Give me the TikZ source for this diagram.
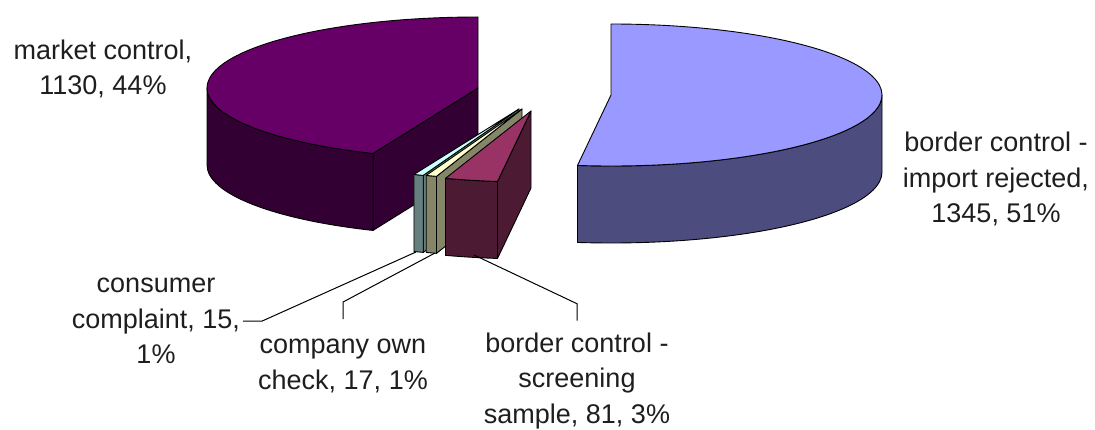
\documentclass[tikz,border=0pt]{standalone}
\usepackage{fontspec}
\setmainfont{Liberation Sans}
\definecolor{brtop}{HTML}{9999FF}\definecolor{brside}{HTML}{4C4C7F}
\definecolor{mctop}{HTML}{660066}\definecolor{mcside}{HTML}{330033}
\definecolor{bstop}{HTML}{993366}\definecolor{bsside}{HTML}{4D1A33}
\definecolor{cotop}{HTML}{FFFFCC}\definecolor{coside}{HTML}{858568}
\definecolor{cctop}{HTML}{CCFFFF}\definecolor{ccside}{HTML}{668080}
\definecolor{txt}{HTML}{1E1E1E}
\begin{document}
\begin{tikzpicture}[x=1pt,y=1pt,
  edge/.style={draw=black, line width=0.9pt, line join=round},
  ell/.style={x radius=271, y radius=71},
  lbl/.style={font=\fontsize{27}{35.5}\selectfont, text=txt, align=center, inner sep=0pt},
  leader/.style={draw=black, line width=1pt}]
\useasboundingbox (0,0) rectangle (1095,429);

% market control
\begin{scope}[shift={(478,341)}]
 \filldraw[edge, fill=mcside] (0,0) -- (247.2:271 and 71) -- ++(0,-77) -- (0,-77) -- cycle;
 \filldraw[edge, fill=mcside] (180:271 and 71) arc[start angle=180, end angle=247.2, ell] -- ++(0,-77) arc[start angle=247.2, end angle=180, ell] -- cycle;
 \filldraw[edge, fill=mctop] (0,0) -- (90:271 and 71) arc[start angle=90, end angle=247.2, ell] -- cycle;
\end{scope}

% border control - import rejected
\begin{scope}[shift={(611,334)}]
 \filldraw[edge, fill=brside] (-97.1:271 and 71) arc[start angle=-97.1, end angle=0, ell] -- ++(0,-77) arc[start angle=0, end angle=-97.1, ell] -- cycle;
 \filldraw[edge, fill=brtop] (0,0) -- (-97.1:271 and 71) arc[start angle=-97.1, end angle=90, ell] -- cycle;
\end{scope}

% consumer complaint
\begin{scope}[shift={(519,320)}]
 \filldraw[edge, fill=ccside] (0,0) -- (-110.7:271 and 71) -- ++(0,-77) -- (0,-77) -- cycle;
 \filldraw[edge, fill=ccside] (-112.8:271 and 71) arc[start angle=-112.8, end angle=-110.7, ell] -- ++(0,-77) arc[start angle=-110.7, end angle=-112.8, ell] -- cycle;
 \filldraw[edge, fill=cctop] (0,0) -- (-112.8:271 and 71) arc[start angle=-112.8, end angle=-110.7, ell] -- cycle;
\end{scope}

% company own check
\begin{scope}[shift={(522,320)}]
 \filldraw[edge, fill=coside] (0,0) -- (-108.4:271 and 71) -- ++(0,-77) -- (0,-77) -- cycle;
 \filldraw[edge, fill=coside] (-110.7:271 and 71) arc[start angle=-110.7, end angle=-108.4, ell] -- ++(0,-77) arc[start angle=-108.4, end angle=-110.7, ell] -- cycle;
 \filldraw[edge, fill=cotop] (0,0) -- (-110.7:271 and 71) arc[start angle=-110.7, end angle=-108.4, ell] -- cycle;
\end{scope}

% border control - screening sample
\begin{scope}[shift={(531,318)}]
 \filldraw[edge, fill=bsside] (0,0) -- (-97.1:271 and 71) -- ++(0,-77) -- (0,-77) -- cycle;
 \filldraw[edge, fill=bsside] (-108.4:271 and 71) arc[start angle=-108.4, end angle=-97.1, ell] -- ++(0,-77) arc[start angle=-97.1, end angle=-108.4, ell] -- cycle;
 \filldraw[edge, fill=bstop] (0,0) -- (-108.4:271 and 71) arc[start angle=-108.4, end angle=-97.1, ell] -- cycle;
\end{scope}

% labels
\node[lbl] (lblmarket) at (103,360) {market control,\\1130, 44\%};
\node[lbl] (lblrejected) at (996,250) {border control -\\import rejected,\\1345, 51\%};
\node[lbl] (lblconsumer) at (156,108) {consumer\\complaint, 15,\\1\%};
\node[lbl] (lblcompany) at (343,63) {company own\\check, 17, 1\%};
\node[lbl] (lblscreening) at (577,48) {border control -\\screening\\sample, 81, 3\%};

% leader lines
\coordinate (tipconsumer) at (416,177);
\coordinate (tipcompany) at (435,176);
\coordinate (tipscreening) at (474,174);
\draw[leader] ([xshift=3pt]lblconsumer.east) -- ++(19,0) -- (tipconsumer);
\draw[leader] ([yshift=20pt]lblcompany.north) -- ++(0,17) -- (tipcompany);
\draw[leader] ([yshift=12pt]lblscreening.north) -- ++(0,17) -- (tipscreening);
\end{tikzpicture}
\end{document}
